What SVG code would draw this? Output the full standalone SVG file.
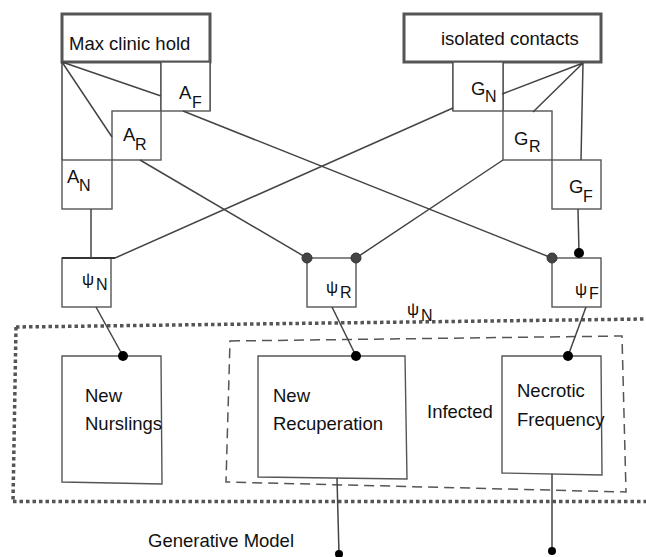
<svg xmlns="http://www.w3.org/2000/svg" width="646" height="557" viewBox="0 0 646 557">
<style>
text{font-family:"Liberation Sans",Arial,sans-serif;fill:#111;font-size:18.5px}
.hdr{fill:#fff;stroke:#555;stroke-width:3}
.box{fill:#fff;stroke:#555;stroke-width:1.4}
.ln{fill:none;stroke:#444;stroke-width:1.5}
.sub{font-size:16px}
.psi{font-size:17px}
.gd{fill:#444;stroke:#333;stroke-width:1}
.bd{fill:#000}
</style>
<rect width="646" height="557" fill="#fff"/>
<g id="frames">
<path d="M16,327 L646,319 M13,501.5 L646,501.5 M16,327 L13,501.5" fill="none" stroke="#555" stroke-width="3.5" stroke-dasharray="3.5 3"/>
<path d="M230,341 L622,336 L626,492 L226,482 Z" fill="none" stroke="#555" stroke-width="1.5" stroke-dasharray="10 6"/>
</g>
<g id="left-grid">
<rect class="hdr" x="62" y="14" width="148" height="48"/>
<text x="69" y="50">Max clinic hold</text>
<path class="ln" d="M62,62 V160 M161,62 V111 M210,62 V111"/>
</g>
<g id="A_F"><rect class="box" x="161" y="62" width="49" height="49"/><text x="179" y="99">A<tspan class="sub" x="192" y="108">F</tspan></text></g>
<g id="A_R"><rect class="box" x="112" y="111" width="49" height="49"/><text x="123" y="141">A<tspan class="sub" x="135" y="150">R</tspan></text></g>
<g id="A_N"><rect class="box" x="62" y="160" width="50" height="49"/><text x="67" y="183">A<tspan class="sub" x="79" y="191">N</tspan></text></g>
<g id="right-grid">
<rect class="hdr" x="404" y="14" width="197" height="48"/>
<text x="441" y="45">isolated contacts</text>
<path class="ln" d="M453,62 V111 M503,62 V111"/>
</g>
<g id="G_N"><rect class="box" x="453" y="62" width="50" height="49"/><text x="471" y="95">G<tspan class="sub" x="485" y="102">N</tspan></text></g>
<g id="G_R"><rect class="box" x="503" y="111" width="49" height="49"/><text x="514" y="145">G<tspan class="sub" x="529" y="152">R</tspan></text></g>
<g id="G_F"><rect class="box" x="552" y="160" width="49" height="49"/><text x="569" y="193">G<tspan class="sub" x="583" y="202">F</tspan></text></g>
<g id="psi_N"><rect class="box" x="62" y="258" width="49" height="49"/><path d="M62,258 H115" stroke="#333" stroke-width="2"/><text class="psi" x="82" y="285">ψ<tspan class="sub" x="96" y="290">N</tspan></text></g>
<g id="psi_R"><rect class="box" x="307" y="258" width="49" height="49"/><text class="psi" x="326" y="293">ψ<tspan class="sub" x="340" y="298">R</tspan></text></g>
<g id="psi_F"><rect class="box" x="552" y="258" width="49" height="49"/><text class="psi" x="575" y="295">ψ<tspan class="sub" x="589" y="299">F</tspan></text></g>
<g id="psi_N_label"><text class="psi" x="407" y="315">ψ<tspan class="sub" x="421" y="321">N</tspan></text></g>
<g id="new_nurslings"><path class="box" d="M62,356 L161,356 L162,484 L62,482 Z"/><text x="85" y="402">New</text><text x="85" y="430">Nurslings</text></g>
<g id="new_recuperation"><path class="box" d="M258,356 L405,356 L407,479 L258,477 Z"/><text x="273" y="402">New</text><text x="273" y="430">Recuperation</text></g>
<g id="necrotic_frequency"><path class="box" d="M502,356 L601,356 L602,475 L502,473 Z"/><text x="517" y="397">Necrotic</text><text x="517" y="426">Frequency</text></g>
<g id="infected"><text x="427" y="418">Infected</text></g>
<g id="generative_model"><text x="148" y="547">Generative Model</text></g>
<g id="connectors">
<path class="ln" d="M62,62 L161,96 M62,62 L112,137"/>
<path class="ln" d="M583,63 L502,94 M583,63 L533,112 M583,63 L581,160"/>
<path class="ln" d="M91,209 L91,258"/>
<path class="ln" d="M140,160 L307,258"/>
<path class="ln" d="M183,111 L552,258"/>
<path class="ln" d="M453,108 L115,258"/>
<path class="ln" d="M503,160 L356,258"/>
<path class="ln" d="M578,209 L579,253"/>
<path class="ln" d="M96,307 L123,356"/>
<path class="ln" d="M332,307 L356,356"/>
<path class="ln" d="M586,307 L568,356"/>
<path class="ln" d="M337,478 L339,554"/>
<path class="ln" d="M552,474 L552,551"/>
<circle class="gd" cx="307" cy="258" r="5"/>
<circle class="gd" cx="356" cy="258" r="5"/>
<circle class="gd" cx="552" cy="258" r="5"/>
<circle class="bd" cx="579" cy="253" r="5"/>
<circle class="bd" cx="123" cy="356" r="5"/>
<circle class="bd" cx="356" cy="356" r="5"/>
<circle class="bd" cx="568" cy="356" r="5"/>
<circle class="bd" cx="339" cy="554" r="4"/>
<circle class="bd" cx="552" cy="551" r="4"/>
</g>
</svg>
